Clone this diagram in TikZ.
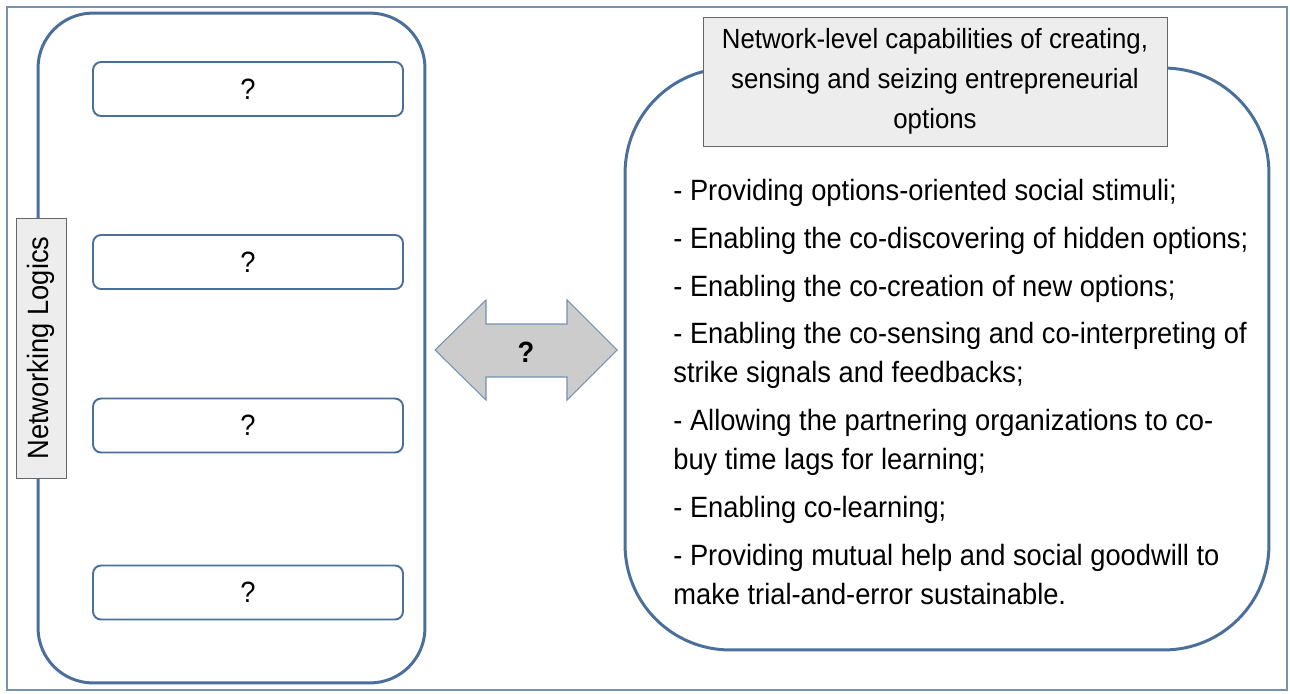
\documentclass[tikz,border=0pt]{standalone}
\usepackage{fontspec}
\setmainfont{Liberation Sans}[FakeStretch=0.93]
\usetikzlibrary{positioning}
\definecolor{panelblue}{RGB}{74,111,155}
\definecolor{framegray}{RGB}{120,145,175}
\tikzset{
    %Define style for boxes
    panel/.style={
        rectangle,
        draw=panelblue, line width=1.7pt,
        outer sep=0pt,
    },
    slot/.style={
        rectangle,
        rounded corners=0.16cm,
        draw=panelblue, line width=1.1pt,
        minimum width=6.2cm,
        minimum height=1.08cm,
        align=center,
    },
    caption/.style={
        rectangle,
        draw=black!60, fill=black!7,
        align=center,
        inner sep=0pt,
    },
    txt/.style={
        draw = none,
        align = left,
        inner sep=0pt,
    },
    twoway/.style={
        draw=framegray, fill=black!20,
        line width=0.6pt,
    },
}

\begin{document}
\begin{tikzpicture}[x=0.02cm,y=-0.02cm,font=\fontsize{16.7}{22.2}\selectfont]
    \useasboundingbox (0,0) rectangle (1290,693);
    \draw[framegray, line width=0.6pt] (7,7) rectangle (1287,690);

    % left side
    \node[panel, rounded corners=1.1cm, minimum width=7.74cm, minimum height=13.4cm] (logics) at (231.5,348) {};
    \node[caption, rotate=90, minimum width=5.2cm, minimum height=1cm] (lbl) at (41,348) {Networking Logics};
    \node[slot] (q1) at (248,89) {?};
    \node[slot] (q2) at (248,262) {?};
    \node[slot] (q3) at (248,425.5) {?};
    \node[slot] (q4) at (248,592.5) {?};

    % middle
    \draw[twoway] (435,350) -- (486,300) -- (486,324) -- (567,324) -- (567,300) -- (617,350)
        -- (567,400) -- (567,377) -- (486,377) -- (486,400) -- cycle;
    \node[font=\fontsize{16.7}{20}\selectfont\bfseries] (link) at (526,352) {?};

    % right side
    \node[panel, rounded corners=2.1cm, minimum width=12.88cm, minimum height=11.64cm] (caps) at (947,359) {};
    \node[caption, minimum width=9.28cm, minimum height=2.58cm, font=\fontsize{15.8}{22.7}\selectfont] (title) at (935,81.5)
        {Network-level capabilities of creating,\\ sensing and seizing entrepreneurial\\ options};
    \node[txt, anchor=north west] (list) at (673,179)
        {- Providing options-oriented social stimuli;\\[5pt]
         - Enabling the co-discovering of hidden options;\\[5pt]
         - Enabling the co-creation of new options;\\[5pt]
         - Enabling the co-sensing and co-interpreting of\\
         strike signals and feedbacks;\\[5pt]
         - Allowing the partnering organizations to co-\\
         buy time lags for learning;\\[5pt]
         - Enabling co-learning;\\[5pt]
         - Providing mutual help and social goodwill to\\
         make trial-and-error sustainable.};
\end{tikzpicture}
\end{document}
